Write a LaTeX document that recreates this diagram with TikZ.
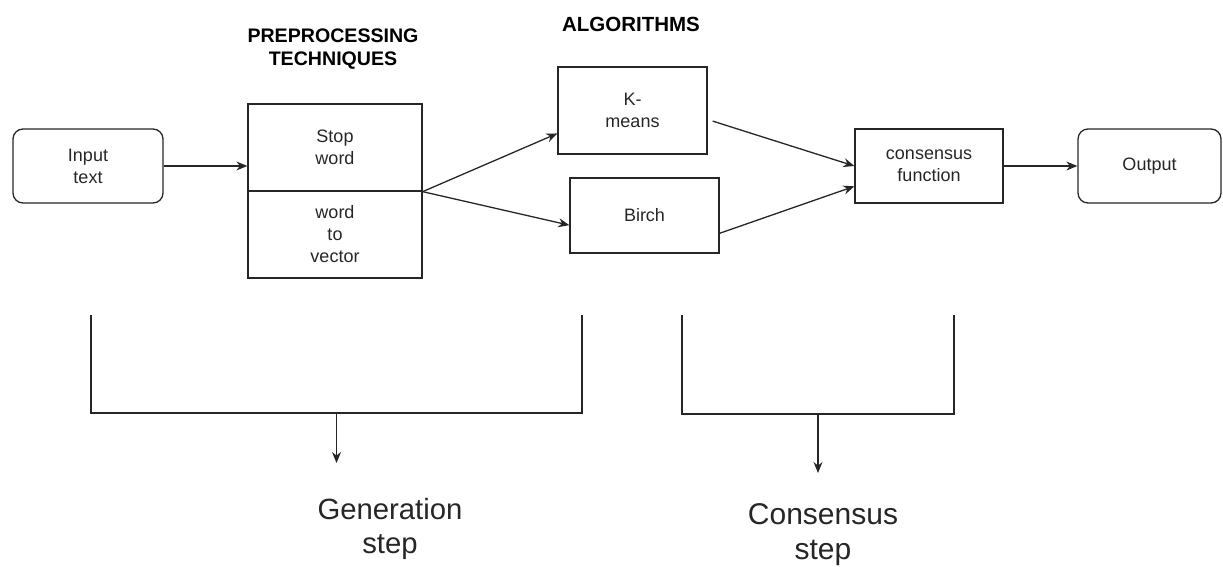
\documentclass[tikz,border=0pt]{standalone}
\usepackage{fontspec}
\setmainfont{Liberation Sans}
\usetikzlibrary{arrows.meta,calc}
\begin{document}
\begin{tikzpicture}[x=1pt,y=-1pt,
  box/.style={draw=black!85, line width=1.3pt, inner sep=0pt, align=center, font=\fontsize{18}{22}\selectfont, text=black!85},
  rbox/.style={box, rounded corners=10pt},
  arr/.style={draw=black!85, line width=1.3pt, -{Stealth[length=11pt,width=9pt]}},
  ln/.style={draw=black!85, line width=1.3pt},
  head/.style={font=\bfseries\fontsize{19.6}{23}\selectfont, align=center, text=black},
  big/.style={align=center, text=black!85},
]
\path[use as bounding box] (0,0) rectangle (1223,567);
% boxes
\node[rbox, minimum width=150pt, minimum height=74pt] (input) at (88,166) {Input\\text};
\node[box, minimum width=174pt, minimum height=87pt] (pretop) at (335,147.5) {Stop\\word};
\node[box, minimum width=174pt, minimum height=87pt] (prebot) at (335,234.5) {word\\to\\vector};
\node[box, minimum width=149pt, minimum height=87pt] (kmeans) at (632.5,110.5) {K-\\means};
\node[box, minimum width=149pt, minimum height=75pt] (birch) at (644.5,215.5) {Birch};
\node[box, minimum width=148pt, minimum height=74pt] (cons) at (929,166) {consensus\\function};
\node[rbox, minimum width=143pt, minimum height=74pt] (output) at (1149.5,166) {Output};
% headings
\node[head] (hpre) at (333,49.5) {PREPROCESSING\\TECHNIQUES};
\node[head, font=\bfseries\fontsize{20.5}{23}\selectfont] (halg) at (631,24.5) {ALGORITHMS};
% connectors
\draw[arr] (input.east) -- (input.east -| pretop.west);
\draw[arr] (pretop.south east) -- ($(kmeans.south west)!0.24!(kmeans.north west)$);
\draw[arr] (pretop.south east) -- ($(birch.north west)!0.627!(birch.south west)$);
\draw[arr] ($(kmeans.north east)!0.62!(kmeans.south east)+(5,0)$) -- (cons.west);
\draw[arr] ($(birch.north east)!0.733!(birch.south east)$) -- ($(cons.north west)!0.77!(cons.south west)$);
\draw[arr] (cons.east) -- (output.west);
% generation bracket
\coordinate (g1) at (91,315);
\coordinate (g2) at (91,413);
\coordinate (g3) at (582,413);
\coordinate (g4) at (582,315);
\coordinate (gm) at (336.5,413);
\coordinate (gtip) at (336.5,463);
\draw[ln] (g1) -- (g2) -- (g3) -- (g4);
\draw[arr] (gm) -- (gtip);
\node[big, font=\fontsize{29.3}{34}\selectfont] (gen) at (390,529) {Generation\\step};
% consensus bracket
\coordinate (c1) at (682,315);
\coordinate (c2) at (682,414);
\coordinate (c3) at (954,414);
\coordinate (c4) at (954,315);
\coordinate (cm) at (818,414);
\coordinate (ctip) at (818,473);
\draw[ln] (c1) -- (c2) -- (c3) -- (c4);
\draw[arr] (cm) -- (ctip);
\node[big, font=\fontsize{30}{35}\selectfont] (cstep) at (823,535) {Consensus\\step};
\end{tikzpicture}
\end{document}
